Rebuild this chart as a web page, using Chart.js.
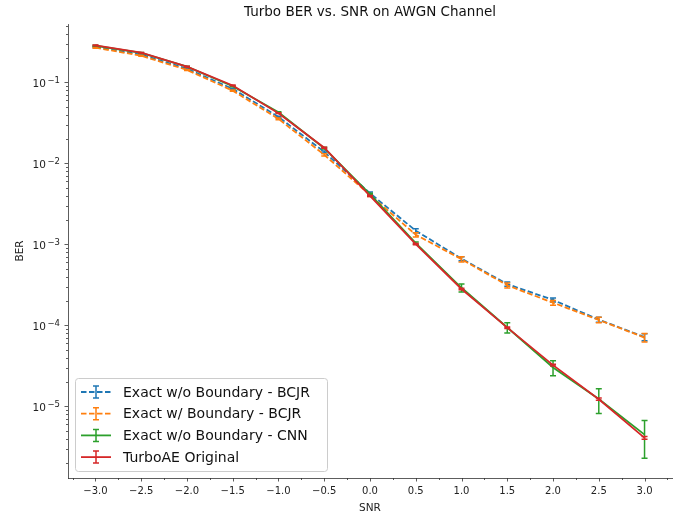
<!DOCTYPE html>
<html>
<head>
<meta charset="utf-8">
<script src="https://cdn.jsdelivr.net/npm/chart.js@4/dist/chart.umd.min.js"></script>
<style>
  body { margin: 0; background: #fff; }
  #wrap { width: 681px; height: 518px; }
</style>
</head>
<body>
<div id="wrap"><canvas id="chart" width="681" height="518"></canvas></div>
<script>
// values
const snr = [-3.0, -2.5, -2.0, -1.5, -1.0, -0.5, 0.0, 0.5, 1.0, 1.5, 2.0, 2.5, 3.0];

const berBcjrNoBound = [0.274, 0.221, 0.148, 0.0835, 0.0376, 0.0139, 0.00428, 0.00148, 0.000668, 0.000324, 0.000207, 0.000118, 0.000072];
const errBcjrNoBound = [0.004, 0.003, 0.002, 0.0015, 0.0008, 0.0004, 0.00015, 0.00008, 0.00004, 0.00002, 0.000012, 0.000008, 0.000007];

const berBcjrBound = [0.269, 0.214, 0.143, 0.0793, 0.0355, 0.0128, 0.00407, 0.00132, 0.000658, 0.000313, 0.000191, 0.000117, 0.000071];
const errBcjrBound = [0.004, 0.003, 0.002, 0.0015, 0.0008, 0.0004, 0.00015, 0.00008, 0.00005, 0.000022, 0.000013, 0.000009, 0.0000085];

const berCnn = [0.284, 0.232, 0.157, 0.0898, 0.0428, 0.01545, 0.00418, 0.00104, 0.000292, 0.0000945, 0.0000303, 0.0000124, 0.0000045];
const errCnn = [0.004, 0.003, 0.002, 0.0015, 0.0008, 0.0004, 0.0001, 0.00003, 0.000033, 0.0000135, 0.0000063, 0.0000042, 0.0000022];

const berTurboAE = [0.287, 0.233, 0.157, 0.0919, 0.0418, 0.01566, 0.00397, 0.00101, 0.000282, 0.000094, 0.0000324, 0.0000123, 0.0000041];
const errTurboAE = [0.003, 0.002, 0.0015, 0.001, 0.0005, 0.0002, 0.00005, 0.00002, 0.000006, 0.000002, 0.0000008, 0.0000004, 0.00000017];

const seriesNames = ['Exact w/o Boundary - BCJR', 'Exact w/ Boundary - BCJR', 'Exact w/o Boundary - CNN', 'TurboAE Original'];
const seriesColors = ['#1f77b4', '#ff7f0e', '#2ca02c', '#d62728'];
const seriesDashed = [true, true, false, false];

const xTicks = [-3.0, -2.5, -2.0, -1.5, -1.0, -0.5, 0.0, 0.5, 1.0, 1.5, 2.0, 2.5, 3.0];
const yTicks = [1e-5, 1e-4, 1e-3, 1e-2, 1e-1];

const title = 'Turbo BER vs. SNR on AWGN Channel';

Chart.defaults.font.family = "'DejaVu Sans', sans-serif";
Chart.defaults.color = '#222';

function makeSet(i, ber, err) {
  return {
    label: seriesNames[i],
    data: snr.map((s, k) => ({ x: s, y: ber[k] })),
    errors: err,
    borderColor: seriesColors[i],
    backgroundColor: seriesColors[i],
    borderWidth: 1.8,
    borderDash: seriesDashed[i] ? [5.5, 2.5] : [],
    pointRadius: 0,
    tension: 0,
    fill: false,
    order: 3 - i
  };
}

const errorBars = {
  id: 'errorBars',
  afterDatasetDraw(chart, args) {
    const ds = chart.data.datasets[args.index];
    const xs = chart.scales.x, ys = chart.scales.y;
    const ctx = chart.ctx;
    ctx.save();
    ctx.strokeStyle = ds.borderColor;
    ctx.lineWidth = 1.5;
    ctx.setLineDash([]);
    ds.data.forEach((p, k) => {
      const e = ds.errors[k];
      const px = xs.getPixelForValue(p.x);
      const top = ys.getPixelForValue(p.y + e);
      const bot = ys.getPixelForValue(Math.max(p.y - e, 1e-9));
      ctx.beginPath();
      ctx.moveTo(px, top); ctx.lineTo(px, bot);
      ctx.moveTo(px - 3, top); ctx.lineTo(px + 3, top);
      ctx.moveTo(px - 3, bot); ctx.lineTo(px + 3, bot);
      ctx.stroke();
    });
    ctx.restore();
  }
};

const decorations = {
  id: 'decorations',
  afterDraw(chart) {
    const ctx = chart.ctx;
    const xs = chart.scales.x, ys = chart.scales.y;
    const area = chart.chartArea;
    ctx.save();
    // tick marks
    ctx.strokeStyle = '#333';
    ctx.lineWidth = 0.8;
    ctx.beginPath();
    for (let v = -3.25; v <= 3.26; v += 0.25) {
      const px = Math.round(xs.getPixelForValue(v)) + 0.5;
      const major = Math.abs(v * 2 - Math.round(v * 2)) < 1e-6;
      ctx.moveTo(px, area.bottom);
      ctx.lineTo(px, area.bottom + (major ? 3.5 : 2));
    }
    for (let d = -7; d <= 0; d++) {
      for (let m = 1; m <= 9; m++) {
        const v = m * Math.pow(10, d);
        if (v < ys.min || v > ys.max) continue;
        const py = Math.round(ys.getPixelForValue(v)) + 0.5;
        ctx.moveTo(area.left, py);
        ctx.lineTo(area.left - (m === 1 ? 3.5 : 2), py);
      }
    }
    ctx.stroke();

    // y tick labels, 10 with a raised exponent
    ctx.fillStyle = '#222';
    ctx.textAlign = 'right';
    ctx.textBaseline = 'alphabetic';
    yTicks.forEach(v => {
      const py = ys.getPixelForValue(v);
      const sup = '\u2212' + String(-Math.round(Math.log10(v)));
      ctx.font = "8.5px 'DejaVu Sans'";
      const w = ctx.measureText(sup).width;
      ctx.fillText(sup, 60, py + 0.5);
      ctx.font = "10.5px 'DejaVu Sans'";
      ctx.fillText('10', 60 - w - 1.5, py + 4.8);
    });

    // title
    ctx.fillStyle = '#111';
    ctx.font = "13.5px 'DejaVu Sans'";
    ctx.textAlign = 'center';
    ctx.textBaseline = 'middle';
    ctx.fillText(title, (area.left + area.right) / 2, 12.5);

    // legend
    const lx = 75, ly = 378, lw = 252, lh = 93;
    ctx.fillStyle = 'rgba(255,255,255,0.8)';
    ctx.strokeStyle = '#cccccc';
    ctx.lineWidth = 1;
    ctx.beginPath();
    ctx.roundRect(lx + 0.5, ly + 0.5, lw, lh, 3);
    ctx.fill();
    ctx.stroke();
    ctx.font = "14px 'DejaVu Sans'";
    ctx.textAlign = 'left';
    seriesNames.forEach((name, i) => {
      const cy = 392 + i * 21.7;
      ctx.strokeStyle = seriesColors[i];
      ctx.lineWidth = 1.8;
      ctx.setLineDash(seriesDashed[i] ? [5.5, 2.5] : []);
      ctx.beginPath();
      ctx.moveTo(81, cy); ctx.lineTo(111, cy);
      ctx.stroke();
      ctx.setLineDash([]);
      ctx.lineWidth = 1.5;
      ctx.beginPath();
      ctx.moveTo(96, cy - 6); ctx.lineTo(96, cy + 6);
      ctx.moveTo(93, cy - 6); ctx.lineTo(99, cy - 6);
      ctx.moveTo(93, cy + 6); ctx.lineTo(99, cy + 6);
      ctx.stroke();
      ctx.fillStyle = '#111';
      ctx.fillText(name, 123, cy + 1);
    });
    ctx.restore();
  }
};

const ctx = document.getElementById('chart').getContext('2d');
const myChart = new Chart(ctx, {
  type: 'line',
  data: {
    datasets: [
      makeSet(0, berBcjrNoBound, errBcjrNoBound),
      makeSet(1, berBcjrBound, errBcjrBound),
      makeSet(2, berCnn, errCnn),
      makeSet(3, berTurboAE, errTurboAE)
    ]
  },
  options: {
    responsive: false,
    animation: false,
    layout: { padding: { left: 0, right: 9, top: 24, bottom: 0 } },
    plugins: { legend: { display: false }, tooltip: { enabled: false } },
    scales: {
      x: {
        type: 'linear',
        min: -3.3,
        max: 3.3,
        afterBuildTicks: scale => { scale.ticks = xTicks.map(v => ({ value: v })); },
        afterFit: scale => { scale.height = 40; },
        grid: { display: false, drawTicks: false },
        border: { display: true, color: '#333', width: 0.8 },
        ticks: {
          autoSkip: false,
          maxRotation: 0,
          padding: 7,
          font: { size: 10 },
          color: '#222',
          callback: v => v.toFixed(1).replace('-', '\u2212')
        },
        title: { display: true, text: 'SNR', font: { size: 10.5 }, color: '#222', padding: { top: 0, bottom: 3 } }
      },
      y: {
        type: 'logarithmic',
        min: 1.31e-6,
        max: 0.527,
        afterBuildTicks: scale => { scale.ticks = yTicks.map(v => ({ value: v })); },
        afterFit: scale => { scale.width = 68; },
        grid: { display: false, drawTicks: false },
        border: { display: true, color: '#333', width: 0.8 },
        ticks: { display: false },
        title: { display: true, text: 'BER', font: { size: 10.5 }, color: '#222', padding: { top: 14, bottom: 0 } }
      }
    }
  },
  plugins: [errorBars, decorations]
});
</script>
</body>
</html>
